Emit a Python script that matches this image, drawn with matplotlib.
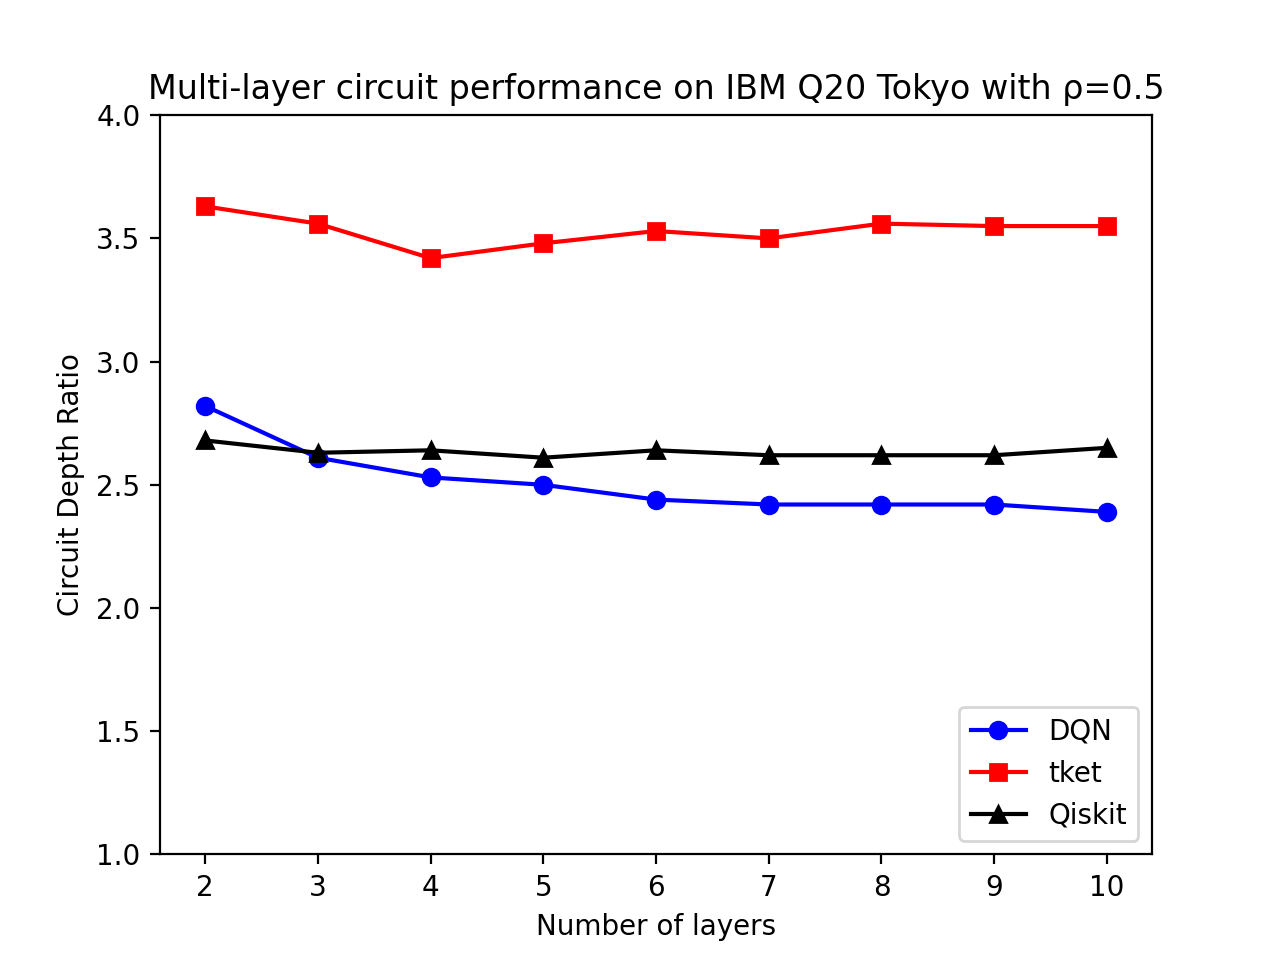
import matplotlib
matplotlib.use("Agg")
import matplotlib.pyplot as plt

layers = [2, 3, 4, 5, 6, 7, 8, 9, 10]
dqn = [2.82, 2.61, 2.53, 2.50, 2.44, 2.42, 2.42, 2.42, 2.39]
tket = [3.63, 3.56, 3.42, 3.48, 3.53, 3.50, 3.56, 3.55, 3.55]
qiskit = [2.68, 2.63, 2.64, 2.61, 2.64, 2.62, 2.62, 2.62, 2.65]

fig = plt.figure(figsize=(6.4, 4.8), dpi=200)
plt.plot(layers, dqn, "bo-", label="DQN")
plt.plot(layers, tket, "rs-", label="tket")
plt.plot(layers, qiskit, "k^-", label="Qiskit")
plt.ylim(1.0, 4.0)
plt.xticks(layers)
plt.xlabel("Number of layers")
plt.ylabel("Circuit Depth Ratio")
plt.title("Multi-layer circuit performance on IBM Q20 Tokyo with ρ=0.5")
plt.legend(loc="lower right")
plt.savefig("out.png")
